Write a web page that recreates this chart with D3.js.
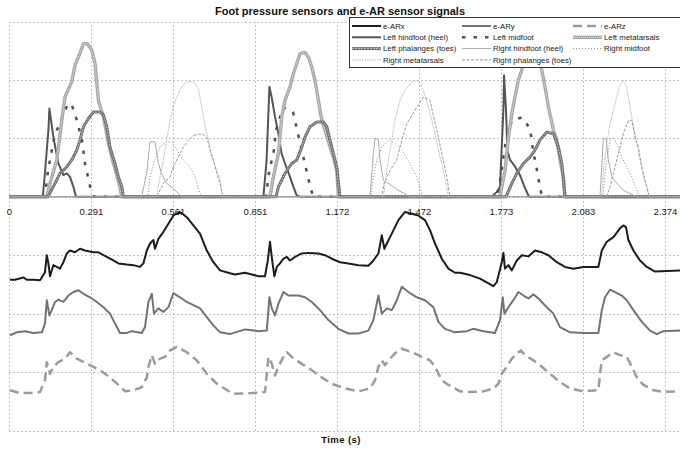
<!DOCTYPE html>
<html>
<head>
<meta charset="utf-8">
<script src="https://cdn.jsdelivr.net/npm/d3@7"></script>
<style>
body { margin: 0; background: #fff; }
svg { display: block; font-family: "Liberation Sans", Arial, sans-serif; }
.grid line { stroke: #c4c4c4; stroke-dasharray: 2,2; shape-rendering: crispEdges; }
.grid path { display: none; }
</style>
</head>
<body>
<svg id="svg" width="680" height="449"></svg>
<script>
// x = sample index (41 samples between labelled ticks), y = signal value
var tickSamples = [0, 41, 82, 123, 164, 205, 246, 287, 328];
var tickLabels = ["0", "0.291", "0.561", "0.851", "1.172", "1.472", "1.773", "2.083", "2.374"];

var eARx = [[0.5,-1.42],[3,-1.42],[7.2,-1.38],[8.9,-1.42],[12.2,-1.42],[15.5,-1.43],[16.4,-1.38],[18,-1.29],[18.9,-1.00],[19.7,-1.14],[20.5,-1.36],[22.2,-1.17],[23.9,-1.20],[25.5,-1.23],[27.2,-1.12],[28.9,-0.97],[30.5,-0.92],[33,-0.95],[35.5,-0.89],[38,-0.92],[42.2,-0.95],[44.7,-0.95],[48.9,-1.03],[52.2,-1.09],[54.7,-1.14],[58.9,-1.16],[62.2,-1.17],[65.5,-1.20],[67.2,-1.14],[68.9,-0.92],[70.5,-0.80],[72.2,-0.74],[73,-0.89],[74.7,-0.72],[77.2,-0.60],[79.7,-0.46],[82.2,-0.32],[85.5,-0.26],[88.9,-0.35],[92.2,-0.49],[95.5,-0.63],[98.9,-0.92],[102.2,-1.12],[105.5,-1.26],[110.5,-1.31],[113,-1.33],[118,-1.30],[121.4,-1.33],[124.7,-1.36],[128,-1.36],[129.4,-1.09],[130.5,-0.77],[131.7,-1.12],[132.7,-1.36],[133.9,-1.20],[135.5,-1.14],[137.2,-1.06],[138.9,-1.03],[140.5,-1.09],[143,-1.03],[146.4,-0.97],[149.7,-0.96],[154.7,-0.97],[158,-1.00],[161.4,-1.06],[165.5,-1.12],[169.7,-1.14],[174.7,-1.17],[179.7,-1.18],[182.2,-1.09],[184.7,-0.97],[186.4,-0.66],[187.7,-0.89],[188.9,-0.80],[191.4,-0.63],[194.7,-0.40],[198,-0.26],[201.4,-0.29],[204.7,-0.32],[208,-0.40],[210.5,-0.57],[213,-0.80],[216.4,-1.06],[219.7,-1.23],[223,-1.30],[225.5,-1.30],[230.5,-1.34],[235.5,-1.40],[242.2,-1.53],[243.9,-1.46],[246.4,-1.12],[247.2,-0.96],[248,-1.23],[249.7,-1.17],[251.4,-1.26],[253.9,-1.09],[256.4,-1.00],[259.7,-1.02],[263,-0.92],[266.4,-0.95],[269.7,-1.00],[273.9,-1.12],[278,-1.20],[282.2,-1.23],[287.2,-1.20],[294.7,-1.20],[296.4,-0.92],[298.9,-0.77],[302.2,-0.69],[305.5,-0.54],[307.2,-0.49],[308.5,-0.52],[309.7,-0.74],[312.2,-0.92],[315.5,-1.09],[318.9,-1.20],[323,-1.28],[328.9,-1.27],[335.5,-1.26]];

var eARy = [[0.5,-2.37],[3.9,-2.32],[8,-2.30],[12.2,-2.33],[16.4,-2.32],[18,-2.17],[18.9,-1.77],[20.2,-2.03],[21.4,-1.94],[23,-1.80],[24.7,-1.76],[27.2,-1.80],[29.7,-1.69],[32.2,-1.63],[34.7,-1.60],[37.2,-1.66],[40.5,-1.72],[43.9,-1.80],[47.2,-1.89],[50.5,-2.00],[53,-2.17],[55.5,-2.33],[58.9,-2.33],[61.4,-2.30],[66.4,-2.33],[68,-2.23],[69.7,-1.80],[71.4,-1.66],[72.5,-2.00],[74.7,-1.91],[77.2,-1.97],[79.7,-1.89],[82.2,-1.65],[85.5,-1.72],[88.9,-1.80],[95.5,-1.91],[98.9,-2.06],[102.2,-2.20],[105.5,-2.32],[110.5,-2.35],[118,-2.27],[124.7,-2.30],[128.9,-2.29],[130.2,-1.72],[131.4,-1.91],[133,-2.03],[134.7,-1.83],[137.2,-1.63],[139.7,-1.69],[144.7,-1.69],[148,-1.72],[151.4,-1.80],[155.5,-1.94],[159.7,-2.11],[164.7,-2.26],[169.7,-2.34],[174.7,-2.34],[179.7,-2.29],[182.2,-2.11],[184.7,-1.69],[186.4,-2.00],[188.9,-1.91],[191.4,-1.94],[193.9,-1.77],[196.4,-1.54],[199.7,-1.63],[203.9,-1.72],[208,-1.77],[212.2,-1.89],[214.7,-2.14],[218,-2.26],[223,-2.32],[228.9,-2.30],[232.2,-2.26],[237.2,-2.30],[243,-2.33],[245.5,-2.11],[246.9,-1.72],[247.7,-2.00],[249.7,-1.89],[252.2,-1.77],[254.7,-1.63],[257.2,-1.69],[259.7,-1.74],[262.2,-1.67],[264.7,-1.74],[268.9,-1.89],[272.2,-2.00],[275.5,-2.23],[280.5,-2.32],[287.2,-2.33],[294.7,-2.33],[296.4,-1.94],[298,-1.72],[300.5,-1.59],[303,-1.63],[306.4,-1.69],[308.9,-1.77],[312.2,-1.94],[316.4,-2.14],[320.5,-2.29],[323.9,-2.35],[327.2,-2.30],[335.5,-2.29]];

var eARz = [[0.5,-3.31],[5.5,-3.36],[10.5,-3.36],[15.5,-3.34],[18,-3.14],[18.9,-2.83],[20.5,-3.03],[22.2,-2.91],[24.7,-2.83],[28,-2.77],[30.5,-2.66],[33.9,-2.77],[40.5,-2.88],[45.5,-2.97],[50.5,-3.09],[54.7,-3.22],[58,-3.33],[62.2,-3.31],[66.4,-3.26],[68.9,-3.09],[69.7,-2.91],[71.4,-2.71],[73,-2.86],[75.5,-2.77],[78,-2.74],[80.5,-2.63],[83.9,-2.57],[88.9,-2.66],[93.9,-2.80],[98.9,-3.03],[103.9,-3.20],[110.5,-3.34],[113,-3.37],[121.4,-3.36],[128,-3.34],[129.7,-2.74],[131.4,-2.86],[133,-3.06],[134.7,-2.91],[137.2,-2.74],[138.9,-2.66],[141.4,-2.74],[146.4,-2.86],[151.4,-2.97],[156.4,-3.09],[161.4,-3.20],[168,-3.28],[174.7,-3.33],[180.5,-3.28],[183,-3.14],[184.7,-2.91],[186.4,-2.80],[188,-2.88],[190.5,-2.77],[193,-2.68],[196.4,-2.60],[201.4,-2.66],[206.4,-2.74],[210.5,-2.80],[213,-2.91],[216.4,-3.14],[219.7,-3.22],[223,-3.28],[225.5,-3.33],[230.5,-3.34],[237.2,-3.33],[242.2,-3.28],[244.7,-3.20],[246.4,-3.03],[248.9,-2.91],[251.4,-2.77],[253.9,-2.68],[255.9,-2.63],[258,-2.71],[262.2,-2.80],[266.4,-2.91],[270.5,-3.03],[275.5,-3.17],[280.5,-3.28],[287.2,-3.33],[294.7,-3.31],[295.5,-3.03],[296.4,-2.80],[298.9,-2.74],[302.2,-2.66],[305.5,-2.71],[308.9,-2.74],[311.4,-2.91],[313.9,-3.09],[317.2,-3.22],[322.2,-3.31],[327.2,-3.34],[335.5,-3.33]];

var leftHindfoot = [[0,0],[16.9,0],[18,0.42],[19.7,1.14],[20.2,1.51],[22.2,1.02],[24.7,0.57],[27.2,0.37],[28.9,0.40],[30.5,0.34],[32.2,0.17],[33.5,0],[127.2,0],[128.8,0.63],[130.2,1.88],[131.3,1.71],[133,1.37],[134.7,1.08],[136.3,0.74],[138,0.57],[140.5,0.34],[142.2,0.17],[143.8,0.03],[145.5,0],[241.3,0],[243.8,0.08],[245.5,0.17],[247.2,1.5],[247.5,2.08],[248.5,1.48],[249.2,0.80],[250.5,0.63],[253,0.52],[255.5,0.37],[258,0.15],[260,0],[335.5,0]];

var leftMidfoot = [[0,0],[18,0],[19.5,0.45],[23,1.08],[25.5,1.25],[29.5,1.60],[31.5,1.56],[34,1.30],[36.5,0.97],[38,0.57],[40.5,0.18],[42.5,0],[128.5,0],[130,0.42],[132.5,0.80],[133.5,1.14],[137,1.53],[142,1.45],[147,0.71],[149.5,0.33],[152,0],[244.5,0],[246.5,0.51],[248.5,0.97],[251.5,1.31],[256.5,1.36],[260.5,1.17],[262,0.80],[264,0.45],[265.5,0.16],[266.5,0],[335.5,0]];

var leftMetatarsals = [[0,0],[18.9,0],[20.5,0.23],[23.9,0.63],[26.4,1.31],[28,1.71],[31.4,1.97],[33,2.25],[35.5,2.46],[37.2,2.62],[39.2,2.62],[41.4,2.51],[43,2.29],[44.7,1.65],[47.2,1.37],[49.7,0.92],[52.2,0.57],[54.7,0.28],[56.4,0],[130.5,0],[132.2,0.34],[134.7,0.74],[136.4,1.37],[138,1.65],[140.5,1.88],[142.2,2.11],[143.9,2.28],[145.5,2.45],[148,2.47],[149.7,2.39],[151.4,2.22],[153,1.99],[154.7,1.65],[156.4,1.31],[158,1.14],[160.5,0.85],[162.2,0.68],[163.9,0.45],[164.7,0],[245.5,0],[248,0.45],[249.7,1.02],[251.4,1.42],[253,1.71],[254.7,2.00],[256.4,2.17],[258,2.59],[260.5,2.71],[264,2.68],[266.4,2.17],[268,1.88],[269.7,1.54],[272.2,1.14],[273.9,0.97],[275.5,0.63],[277.2,0.34],[278,0],[335.5,0]];

var leftPhalanges = [[0,0],[19.5,0],[23,0.23],[25.5,0.40],[28.9,0.51],[31.4,0.63],[33.9,0.80],[35.5,0.97],[37.2,1.20],[39.7,1.34],[42.2,1.45],[45.5,1.45],[47.2,1.40],[48.9,1.20],[50.5,0.85],[53,0.57],[54.7,0.34],[56.4,0.17],[57.2,0],[133.5,0],[134.7,0.17],[138,0.40],[141.4,0.57],[143.9,0.63],[146.4,0.85],[148,1.02],[150.5,1.20],[153.9,1.28],[157.2,1.28],[158.9,1.20],[160.5,0.97],[162.2,0.74],[163.9,0.51],[165.5,0],[248.5,0],[251.4,0.23],[253.9,0.40],[257.2,0.57],[260.5,0.68],[263,0.80],[265.5,0.97],[268.9,1.11],[272.2,1.08],[274.7,0.85],[276.4,0.57],[278,0],[335.5,0]];

var rightHindfoot = [[0,0],[66.3,0],[68.8,0.40],[70.5,0.94],[73,0.94],[74.7,0.57],[76.3,0.40],[78.8,0.23],[82.2,0.14],[85.5,0.03],[87,0],[180.5,0],[182.2,0.74],[183,1.00],[184.7,0.97],[185.5,0.63],[187.2,0.28],[189.7,0.23],[192.2,0.17],[194.7,0.11],[198,0.05],[200.5,0],[295.5,0],[297.2,1.00],[298.5,1.00],[299.7,0.63],[301.4,0.34],[303.9,0.23],[307.2,0.11],[313.9,0],[335.5,0]];

var rightMidfoot = [[0,0],[69.5,0],[70.5,0.34],[73,0.63],[75.5,0.85],[78.9,0.94],[81.4,0.94],[83.9,0.80],[87.2,0.63],[90.5,0.51],[93,0.34],[95.5,0.05],[97.2,0],[181,0],[182.2,0.34],[183.9,0.63],[186.4,0.85],[189.7,0.97],[193,0.91],[196.4,0.80],[200.5,0.57],[203.9,0.34],[206.4,0.05],[208,0],[297,0],[298,0.40],[300.5,0.97],[302.2,1.02],[303.9,0.91],[306.4,0.68],[308.9,0.51],[311.4,0.34],[313.9,0.11],[315.5,0],[335.5,0]];

var rightMetatarsals = [[0,0],[73.9,0],[75.5,0.34],[77.2,0.63],[78.9,0.97],[80.5,1.31],[82.2,1.54],[83.9,1.71],[86.4,1.88],[88.9,1.97],[92.2,1.97],[94.7,1.85],[96.4,1.54],[98,1.20],[99.7,0.97],[101.4,0.68],[103.9,0.45],[105.5,0.28],[106.9,0],[187.2,0],[188.9,0.45],[191.4,0.97],[193,1.31],[195.5,1.65],[198,1.82],[201.4,1.97],[204.7,1.99],[207.2,1.82],[209.7,1.54],[212.2,1.20],[214.7,0.80],[217.2,0.45],[219.7,0],[296.4,0],[297.2,0.45],[298.9,0.91],[300.5,1.25],[302.2,1.48],[303.9,1.71],[305.5,1.91],[307.2,1.99],[308.9,1.88],[310.5,1.54],[312.2,1.22],[313.9,0.91],[315.5,0.63],[317.2,0.34],[318.9,0.17],[320,0],[335.5,0]];

var rightPhalanges = [[0,0],[73.9,0],[77.2,0.23],[80.5,0.34],[82.2,0.51],[83.9,0.63],[85.5,0.74],[87.2,0.85],[89.7,0.97],[92.2,1.05],[96.4,1.08],[98.9,1.02],[100.5,0.80],[102.2,0.63],[103.9,0.40],[105.5,0.23],[106.9,0],[186.4,0],[187.5,0.23],[190.5,0.45],[193.9,0.63],[196.4,0.97],[198.9,1.25],[203,1.48],[207.2,1.71],[210.5,1.65],[212.5,1.34],[214.5,1.05],[216.4,0.74],[218.9,0.34],[220.5,0],[298.9,0],[300.5,0.17],[304.7,0.74],[307.2,1.08],[309.7,1.31],[311.4,1.31],[313,1.02],[314.7,0.85],[316.4,0.51],[318,0.28],[320.2,0],[335.5,0]];

var seriesNames = ["e-ARx", "e-ARy", "e-ARz", "Left hindfoot (heel)", "Left midfoot", "Left metatarsals",
	"Left phalanges (toes)", "Right hindfoot (heel)", "Right midfoot", "Right metatarsals", "Right phalanges (toes)"];

var svg = d3.select("#svg");
var margin = {left: 9, right: 0, top: 21.5, bottom: 18.5};
var width = 680;
var height = 449;

var x = d3.scaleLinear().domain([0, 335.5]).range([margin.left, width - margin.right]);
var y = d3.scaleLinear().domain([-4, 3]).range([height - margin.bottom, margin.top]);

// line styles, one per series (hatched ones get an inner stroke)
var styles = [
	{color: "#1c1c1c", w: 2},
	{color: "#737373", w: 2},
	{color: "#9c9c9c", w: 2.5, dash: "9,5"},
	{color: "#555", w: 2},
	{color: "#505050", w: 2.5, dash: "3.5,8"},
	{color: "#a8a8a8", w: 3.4, inner: "#e6e6e6"},
	{color: "#6f6f6f", w: 3, inner: "#bdbdbd", innerDash: "2,1"},
	{color: "#ababab", w: 1},
	{color: "#8a8a8a", w: 1, dash: "1,2"},
	{color: "#b8b8b8", w: 1, dash: "1.5,1"},
	{color: "#9a9a9a", w: 1, dash: "3,1.5"}
];
var seriesData = [eARx, eARy, eARz, leftHindfoot, leftMidfoot, leftMetatarsals, leftPhalanges,
	rightHindfoot, rightMidfoot, rightMetatarsals, rightPhalanges];

// grid
svg.append("g")
	.attr("class", "grid")
	.attr("transform", "translate(0," + y(-4) + ")")
	.call(d3.axisBottom(x).tickValues(tickSamples).tickSize(-(y(-4) - y(3))).tickFormat(""));
svg.append("g")
	.attr("class", "grid")
	.attr("transform", "translate(" + x(0) + ",0)")
	.call(d3.axisLeft(y).tickValues(d3.range(-4, 4)).tickSize(-(x(335.5) - x(0))).tickFormat(""));

// tick labels under the zero line
var xAxis = svg.append("g")
	.attr("transform", "translate(0," + y(0) + ")")
	.call(d3.axisBottom(x).tickValues(tickSamples).tickSize(0).tickPadding(11)
		.tickFormat(function(d, i){return tickLabels[i];}));
xAxis.select(".domain").remove();
xAxis.selectAll("text")
	.attr("font-family", "'Liberation Sans', Arial, sans-serif")
	.attr("font-size", "9.5px")
	.attr("fill", "#222");

// series
var line = d3.line()
	.x(function(d){return x(d[0]);})
	.y(function(d){return y(d[1]);});

var lineArea = svg.append("g").attr("id", "lineArea");
seriesData.forEach(function(data, i) {
	var s = styles[i];
	lineArea.append("path")
		.datum(data)
		.attr("fill", "none")
		.attr("stroke", s.color)
		.attr("stroke-width", s.w)
		.attr("stroke-dasharray", s.dash || null)
		.attr("stroke-linejoin", "round")
		.attr("d", line);
	if (s.inner) {
		lineArea.append("path")
			.datum(data)
			.attr("fill", "none")
			.attr("stroke", s.inner)
			.attr("stroke-width", 1)
			.attr("stroke-dasharray", s.innerDash || "1,1")
			.attr("d", line);
	}
});

// title
svg.append("text")
	.attr("x", 340)
	.attr("y", 15)
	.attr("text-anchor", "middle")
	.attr("font-weight", "bold")
	.attr("font-size", "11px")
	.attr("fill", "#111")
	.text("Foot pressure sensors and e-AR sensor signals");

svg.append("text")
	.attr("x", 341)
	.attr("y", 443)
	.attr("text-anchor", "middle")
	.attr("font-weight", "bold")
	.attr("font-size", "9.5px")
	.attr("letter-spacing", "0.4px")
	.attr("fill", "#111")
	.text("Time (s)");

// legend
var legend = svg.append("g").attr("id", "legend");
legend.append("rect")
	.attr("x", 349.5)
	.attr("y", 17.5)
	.attr("width", 340)
	.attr("height", 50)
	.attr("fill", "#fff")
	.attr("stroke", "#333")
	.attr("stroke-width", 1);

var colX = [352, 462, 573];
var rowH = 11.3;
seriesNames.forEach(function(name, i) {
	var col = i % 3;
	var row = Math.floor(i / 3);
	var ly = 26 + row * rowH;
	var s = styles[i];
	var item = legend.append("g");
	item.append("line")
		.attr("x1", colX[col])
		.attr("x2", colX[col] + 29)
		.attr("y1", ly)
		.attr("y2", ly)
		.attr("stroke", s.color)
		.attr("stroke-width", s.w)
		.attr("stroke-dasharray", s.dash || null);
	if (s.inner) {
		item.append("line")
			.attr("x1", colX[col])
			.attr("x2", colX[col] + 29)
			.attr("y1", ly)
			.attr("y2", ly)
			.attr("stroke", s.inner)
			.attr("stroke-width", 1)
			.attr("stroke-dasharray", s.innerDash || "1,1");
	}
	item.append("text")
		.attr("x", colX[col] + 31)
		.attr("y", ly + 2.8)
		.attr("font-size", "7.8px")
		.attr("fill", "#222")
		.text(name);
});
</script>
</body>
</html>
